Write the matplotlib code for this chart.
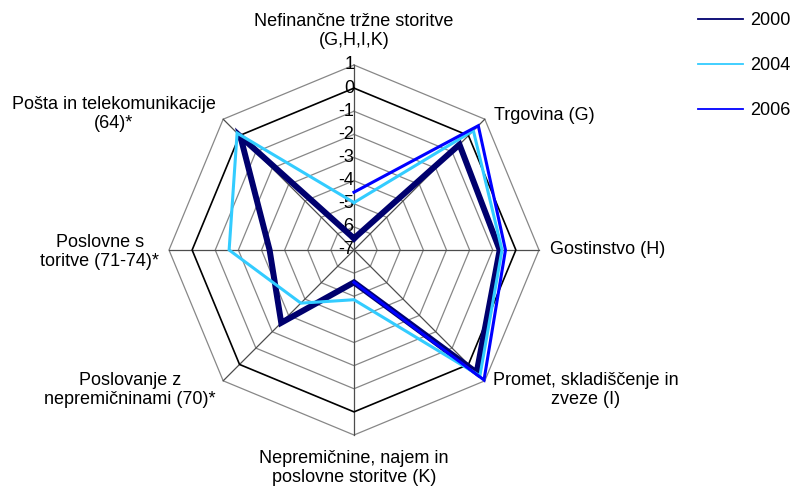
import numpy as np
import matplotlib
matplotlib.use("Agg")
import matplotlib.pyplot as plt
from matplotlib.lines import Line2D

plt.rcParams['font.family'] = ['Liberation Sans', 'DejaVu Sans']

# data
categories = [
    "Nefinančne tržne storitve\n(G,H,I,K)",
    "Trgovina (G)",
    "Gostinstvo (H)",
    "Promet, skladiščenje in\nzveze (I)",
    "Nepremičnine, najem in\nposlovne storitve (K)",
    "Poslovanje z\nnepremičninami (70)*",
    "Poslovne s\ntoritve (71-74)*",
    "Pošta in telekomunikacije\n(64)*",
]
years = ["2000", "2004", "2006"]
v2000 = [-6.5, -0.55, -0.7, 0.5, -5.6, -2.55, -3.35, -0.05]
v2004 = [-4.95, 0.3, -0.6, 0.7, -4.85, -3.75, -1.6, 0.15]
v2006 = [-4.5, 0.6, -0.45, 0.95, -5.6, np.nan, np.nan, np.nan]
ticks = [1, 0, -1, -2, -3, -4, -5, -6, -7]

rmin, rmax = -7, 1
colors = ["#00006e", "#33ccff", "#0000ff"]
widths = [4.3, 2.2, 2.2]
FS = 13

W, H = 792, 486
cx, cy = 354, 250          # centre of radar, pixels
unit = 185 / (rmax - rmin)  # pixels per unit

fig = plt.figure(figsize=(W / 100, H / 100), dpi=100)
ax = fig.add_axes([0, 0, 1, 1])
ax.set_xlim(-cx / unit, (W - cx) / unit)
ax.set_ylim(-(H - cy) / unit, cy / unit)
ax.axis('off')

n = len(categories)
ang = np.arange(n) * 2 * np.pi / n


def xy(vals):
    r = np.asarray(vals, dtype=float) - rmin
    r = np.append(r, r[0])
    a = np.append(ang, ang[0])
    return r * np.sin(a), r * np.cos(a)


# grid polygons
for lev in ticks[:-1]:
    gx, gy = xy([lev] * n)
    if lev == 0:
        ax.plot(gx, gy, color="black", lw=1.2, zorder=2)
    else:
        ax.plot(gx, gy, color="#878787", lw=0.9, zorder=1)

# spokes
for a in ang:
    ax.plot([0, (rmax - rmin) * np.sin(a)], [0, (rmax - rmin) * np.cos(a)],
            color="#4d4d4d", lw=0.9, zorder=1.5)

# tick labels along the top spoke
for t in ticks:
    ax.text(0.02, t - rmin, str(t), ha='right', va='center', fontsize=FS, zorder=3)

# series
for vals, c, lw in zip([v2000, v2004, v2006], colors, widths):
    sx, sy = xy(vals)
    ax.plot(sx, sy, color=c, lw=lw, solid_joinstyle='miter', zorder=4)

# category labels (pixel centres)
label_pos = [(354, 31), (544, 115), (608, 250), (586, 390),
             (354, 468), (130, 390), (100, 252), (114, 114)]
for lab, (px, py) in zip(categories, label_pos):
    fig.text(px / W, 1 - py / H, lab, ha='center', va='center',
             fontsize=FS, linespacing=1.2, multialignment='center')

# legend
handles = [Line2D([], [], color=c, lw=1.3) for c in colors]
fig.legend(handles, years, loc='upper left', bbox_to_anchor=(698 / W, 1 - 12 / H),
           frameon=False, fontsize=FS, borderpad=0, borderaxespad=0,
           handlelength=2.5, handletextpad=0.4, labelspacing=1.55)

fig.savefig("out.png", dpi=100)
